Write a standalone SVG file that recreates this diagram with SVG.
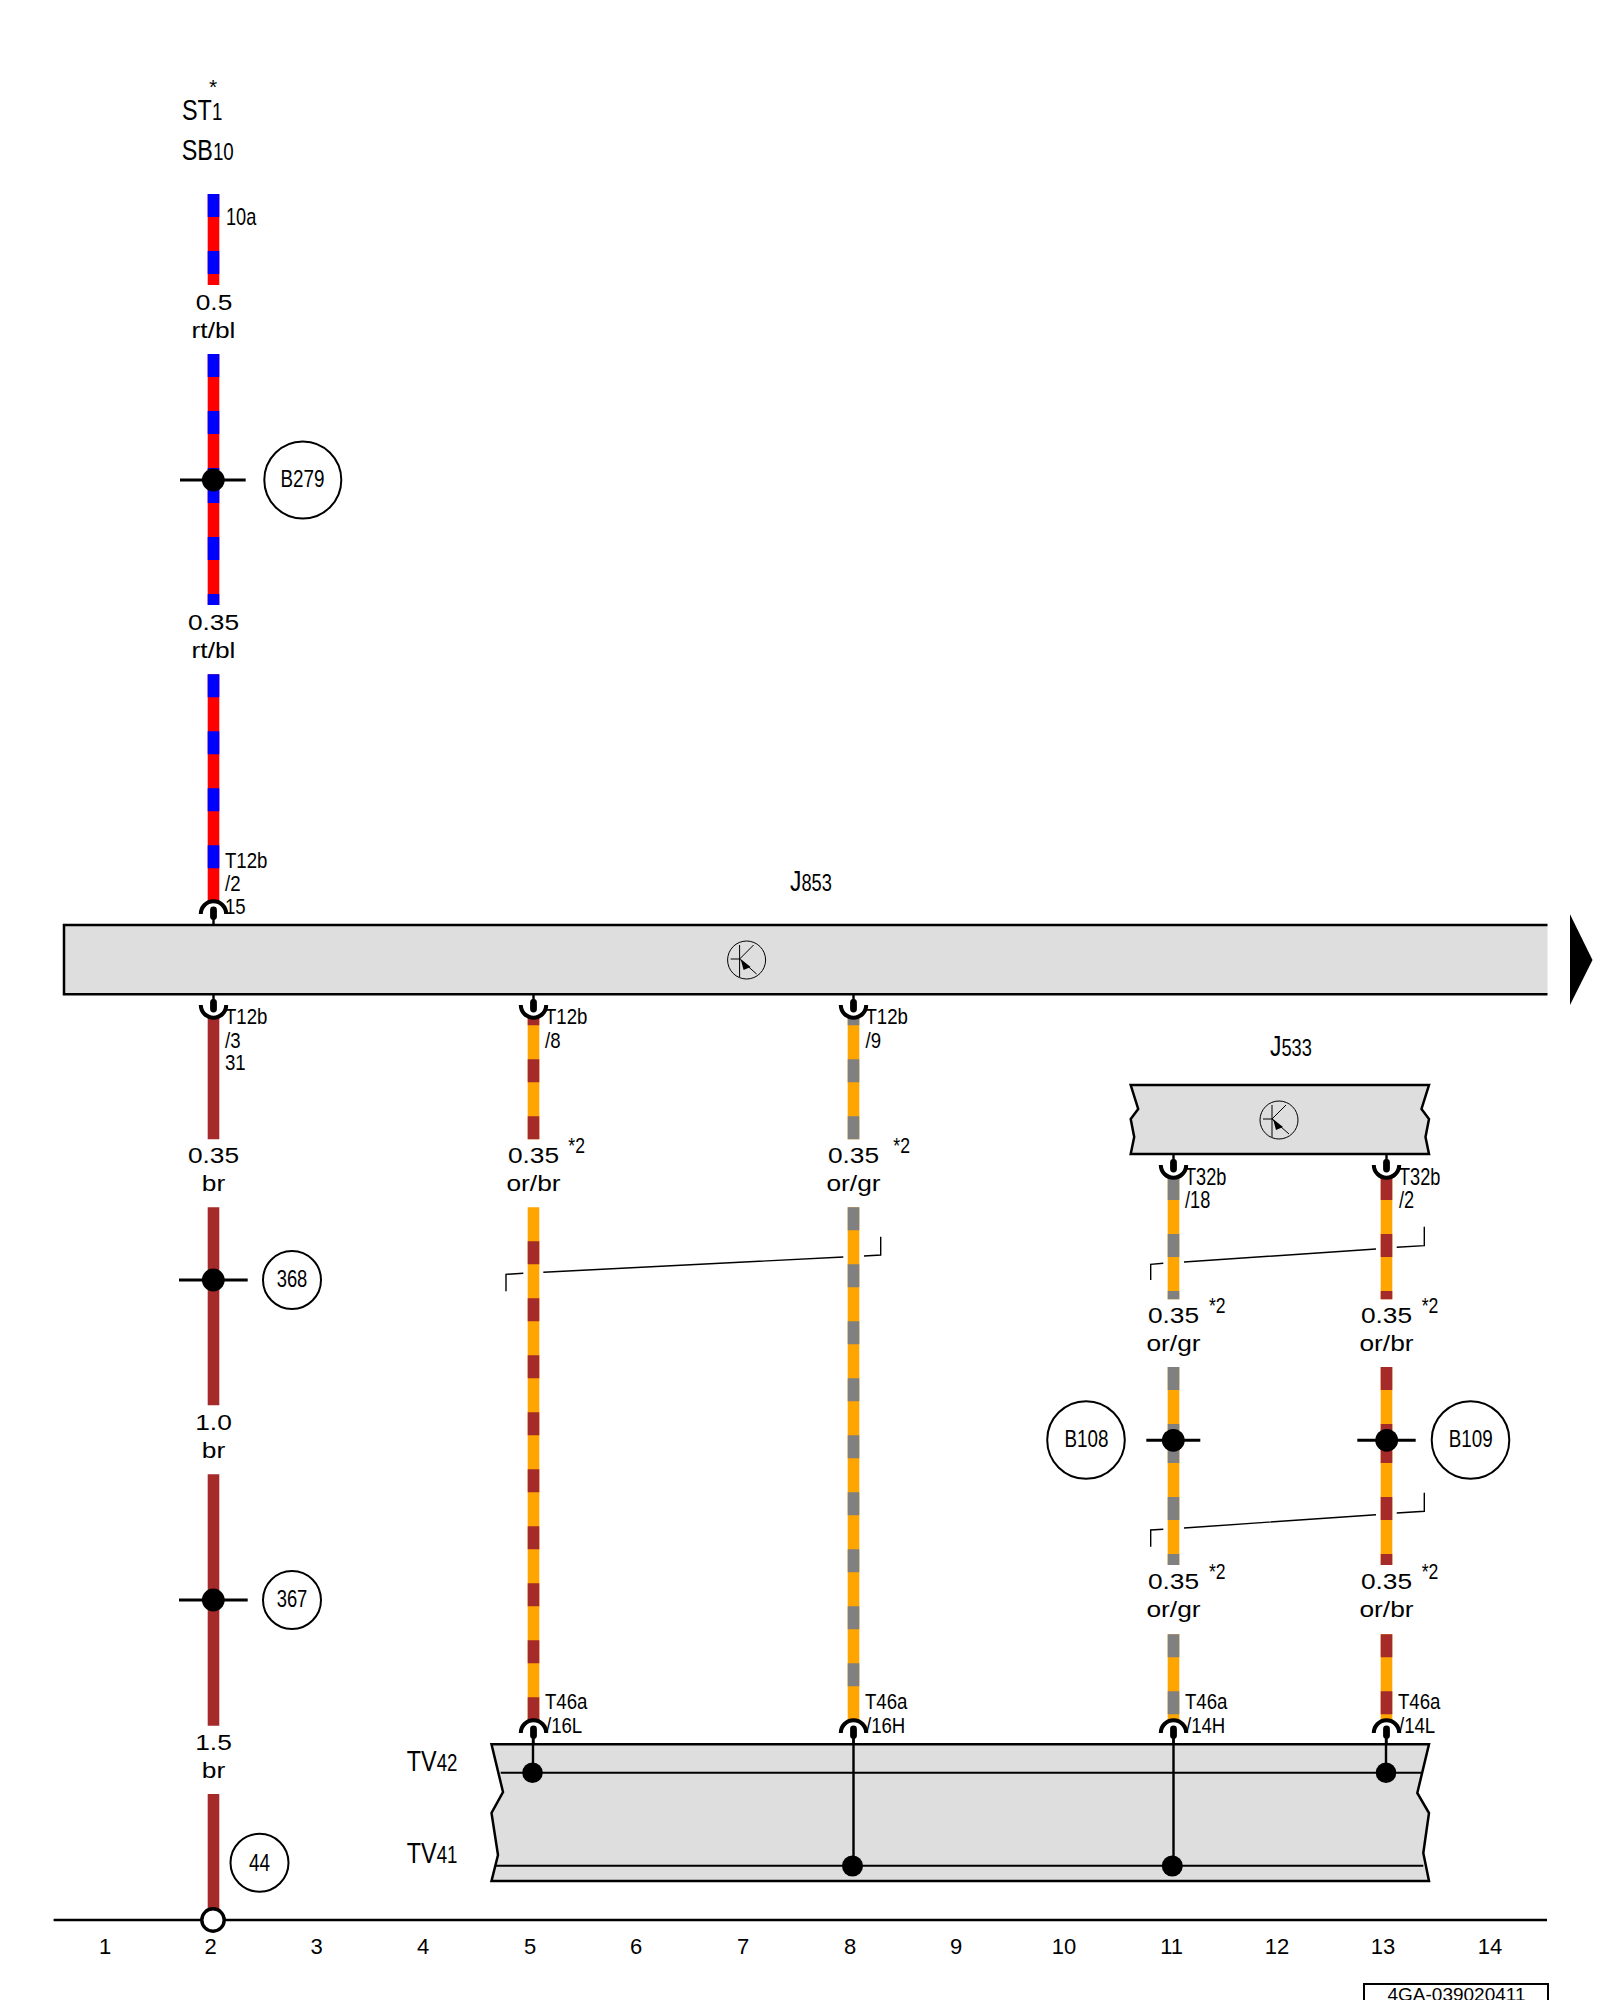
<svg xmlns="http://www.w3.org/2000/svg" xmlns:xlink="http://www.w3.org/1999/xlink" width="1600" height="2000" viewBox="0 0 1600 2000">
<style>
text{font-family:"Liberation Sans",Arial,sans-serif;fill:#000}
.big{font-size:30px}.sub{font-size:24px}
.lab{font-size:23px}
.wl{font-size:22.5px;text-anchor:middle}
.ax{font-size:22px;text-anchor:middle}
.nl{font-size:23px;text-anchor:middle}
.st{font-size:22px}
.box{fill:#dedede;stroke:#000;stroke-width:2.5;stroke-linejoin:miter}
.w{fill:none;stroke-width:11.6}
.rt{stroke:#f00}.bl{stroke:#00f}.br{stroke:#a52a2a}.or{stroke:#ffa500}.gr{stroke:#808080}
.d{stroke-dasharray:23 34}
.ring{fill:#fff;stroke:#000;stroke-width:2}
.cross{stroke:#000;stroke-width:3;fill:none}
.inner{stroke:#000;stroke-width:2;fill:none}
.thin{stroke:#000;stroke-width:2.4;fill:none}
.sc{stroke:#000;stroke-width:1.4;fill:none}
.sym{stroke:#000;stroke-width:1;fill:none}
</style>
<defs>
<g id="cU"><path d="M-12.7 0A12.7 12.7 0 0 0 12.7 0" fill="none" stroke="#000" stroke-width="4"/><path d="M0 -11V-5" stroke="#000" stroke-width="2.4"/><rect x="-3.4" y="-6" width="6.8" height="13.5" rx="3.4" fill="#000"/></g>
<g id="cA"><path d="M-12.7 0A12.7 12.7 0 0 1 12.7 0" fill="none" stroke="#000" stroke-width="4"/><path d="M0 11V5" stroke="#000" stroke-width="2.4"/><rect x="-3.4" y="-7.5" width="6.8" height="13.5" rx="3.4" fill="#000"/></g>
<g id="tr"><circle r="19" fill="none" stroke="#000" stroke-width="1"/><path class="sym" d="M-16 -1H-7M-7 -15V17M-7 -1L7 -15M-7 -1L10 14"/><path d="M-6 -1L4 7L-3 10Z" fill="#000"/></g>
<g id="sp"><circle r="11.4" fill="#000"/></g>
</defs>

<g id="connectors">
<g id="wire-2">
<path class="w rt" d="M213.5 194V285"/><path class="w bl d" d="M213.5 194V285"/>
<path class="w rt" d="M213.5 354V470"/><path class="w bl d" d="M213.5 354V470"/>
<path class="w rt" d="M213.5 480V605"/><path class="w bl d" d="M213.5 480V605"/>
<path class="w rt" d="M213.5 674.3V902"/><path class="w bl d" d="M213.5 674.3V902"/>
<path class="w br" d="M213.5 1017V1139.3M213.5 1207.3V1405.3M213.5 1474.3V1725.7M213.5 1794V1910"/>
</g>
<g id="wire-5">
<path class="w or" d="M533.5 1017V1139.3"/><path class="w br d" stroke-dashoffset="14.7" d="M533.5 1017V1139.3"/>
<path class="w or" d="M533.5 1207.3V1721"/><path class="w br d" stroke-dashoffset="23" d="M533.5 1207.3V1721"/>
</g>
<g id="wire-8">
<path class="w or" d="M853.5 1017V1139.3"/><path class="w gr d" stroke-dashoffset="14.7" d="M853.5 1017V1139.3"/>
<path class="w or" d="M853.5 1207.3V1721"/><path class="w gr d" d="M853.5 1207.3V1721"/>
</g>
<g id="wire-11">
<path class="w or" d="M1173.5 1177V1299.3"/><path class="w gr d" d="M1173.5 1177V1299.3"/>
<path class="w or" d="M1173.5 1367V1440"/><path class="w gr d" d="M1173.5 1367V1440"/>
<path class="w or" d="M1173.5 1440V1565"/><path class="w gr d" d="M1173.5 1440V1565"/>
<path class="w or" d="M1173.5 1634.3V1721"/><path class="w gr d" d="M1173.5 1634.3V1721"/>
</g>
<g id="wire-13">
<path class="w or" d="M1386.5 1177V1299.3"/><path class="w br d" d="M1386.5 1177V1299.3"/>
<path class="w or" d="M1386.5 1367V1440"/><path class="w br d" d="M1386.5 1367V1440"/>
<path class="w or" d="M1386.5 1440V1565"/><path class="w br d" d="M1386.5 1440V1565"/>
<path class="w or" d="M1386.5 1634.3V1721"/><path class="w br d" d="M1386.5 1634.3V1721"/>
</g>
<g id="screens">
<path class="sc" d="M506 1291.3V1274.3L523.3 1273.3M543.3 1272.3L843.3 1257M864 1256L880.7 1255V1236.7"/>
<path class="sc" d="M1150.7 1280V1264.3L1163.3 1263.3M1184 1262L1376 1249M1396.7 1247.3L1424.3 1245.7V1226.7"/>
<path class="sc" d="M1150.7 1546.7V1530L1163.3 1529.3M1184 1528L1376 1514.7M1396.7 1513L1424.3 1511.3V1492.7"/>
</g>
</g>

<g id="fuse-labels">
<text text-anchor="middle" x="213" y="94" style="font-size:21px">*</text>
<text transform="matrix(.78 0 0 1 182 120)"><tspan class="big">ST</tspan><tspan class="sub">1</tspan></text>
<text transform="matrix(.78 0 0 1 181.7 160)"><tspan class="big">SB</tspan><tspan class="sub">10</tspan></text>
<text class="lab" transform="matrix(.79 0 0 1 226 225)">10a</text>
</g>

<g id="wire-labels">
<text class="wl" transform="matrix(1.17 0 0 1 214 310)">0.5</text>
<text class="wl" transform="matrix(1.17 0 0 1 213.5 337.7)">rt/bl</text>
<text class="wl" transform="matrix(1.17 0 0 1 213.5 630)">0.35</text>
<text class="wl" transform="matrix(1.17 0 0 1 213.5 657.7)">rt/bl</text>
<text class="wl" transform="matrix(1.17 0 0 1 213.5 1162.7)">0.35</text>
<text class="wl" transform="matrix(1.17 0 0 1 213.5 1190.7)">br</text>
<text class="wl" transform="matrix(1.17 0 0 1 213.5 1430)">1.0</text>
<text class="wl" transform="matrix(1.17 0 0 1 213.5 1457.7)">br</text>
<text class="wl" transform="matrix(1.17 0 0 1 213.5 1750)">1.5</text>
<text class="wl" transform="matrix(1.17 0 0 1 213.5 1777.7)">br</text>
<text class="wl" transform="matrix(1.17 0 0 1 533.5 1162.7)">0.35</text>
<text class="wl" transform="matrix(1.17 0 0 1 533.5 1190.7)">or/br</text>
<text class="st" transform="matrix(.8 0 0 1 568.3 1152.7)">*2</text>
<text class="wl" transform="matrix(1.17 0 0 1 853.5 1162.7)">0.35</text>
<text class="wl" transform="matrix(1.17 0 0 1 853.5 1190.7)">or/gr</text>
<text class="st" transform="matrix(.8 0 0 1 893.3 1152.7)">*2</text>
<text class="wl" transform="matrix(1.17 0 0 1 1173.5 1322.7)">0.35</text>
<text class="wl" transform="matrix(1.17 0 0 1 1173.5 1350.7)">or/gr</text>
<text class="st" transform="matrix(.8 0 0 1 1209 1312.7)">*2</text>
<text class="wl" transform="matrix(1.17 0 0 1 1386.5 1322.7)">0.35</text>
<text class="wl" transform="matrix(1.17 0 0 1 1386.5 1350.7)">or/br</text>
<text class="st" transform="matrix(.8 0 0 1 1421.7 1312.7)">*2</text>
<text class="wl" transform="matrix(1.17 0 0 1 1173.5 1589.3)">0.35</text>
<text class="wl" transform="matrix(1.17 0 0 1 1173.5 1617.3)">or/gr</text>
<text class="st" transform="matrix(.8 0 0 1 1209 1579.3)">*2</text>
<text class="wl" transform="matrix(1.17 0 0 1 1386.5 1589.3)">0.35</text>
<text class="wl" transform="matrix(1.17 0 0 1 1386.5 1617.3)">or/br</text>
<text class="st" transform="matrix(.8 0 0 1 1421.7 1579.3)">*2</text>
</g>

<g id="J853">
<rect x="64" y="925" width="1483.5" height="69.3" fill="#dedede"/>
<path class="box" style="fill:none" d="M1547.5 925H64V994.3H1547.5"/>
<use xlink:href="#tr" href="#tr" x="746.6" y="960"/>
<text transform="matrix(.76 0 0 1 790 890.7)"><tspan class="big">J</tspan><tspan class="sub">853</tspan></text>
<path d="M1570 914.3L1592.5 960L1570 1005Z" fill="#000"/>
</g>

<g id="J533">
<path class="box" d="M1130.7 1085H1429L1421.5 1109L1429 1119L1425.5 1137L1429 1154H1130.7L1134.2 1137L1130.7 1119L1138.2 1109Z"/>
<use href="#tr" x="1279" y="1120"/>
<text transform="matrix(.76 0 0 1 1270 1055.7)"><tspan class="big">J</tspan><tspan class="sub">533</tspan></text>
</g>

<g id="TV">
<path class="box" d="M491.5 1744.3H1429L1417.3 1793L1429 1813L1423.3 1853L1429 1881H491.5L498 1855L491.5 1813L503 1792Z"/>
<path class="inner" d="M500.7 1772.7H1421.7M496 1865.7H1423.3"/>
<path class="thin" d="M533 1739V1772M853.5 1739V1866M1173.5 1739V1866M1386 1739V1772"/>
<circle cx="532.5" cy="1772.7" r="10.3"/>
<circle cx="852.5" cy="1866" r="10.5"/>
<circle cx="1172.3" cy="1866" r="10.5"/>
<circle cx="1386" cy="1772.7" r="10.3"/>
<text transform="matrix(.78 0 0 1 406.8 1770.7)"><tspan class="big">TV</tspan><tspan class="sub">42</tspan></text>
<text transform="matrix(.78 0 0 1 406.8 1863.3)"><tspan class="big">TV</tspan><tspan class="sub">41</tspan></text>
</g>

<g id="terminals">
<use href="#cA" x="213.5" y="914"/>
<text class="lab" transform="matrix(.81 0 0 1 225 868.3)">T12b</text>
<text class="lab" transform="matrix(.81 0 0 1 225 890.7)">/2</text>
<text class="lab" transform="matrix(.81 0 0 1 225 914)">15</text>
<use href="#cU" x="213.5" y="1005"/>
<text class="lab" transform="matrix(.81 0 0 1 225 1024)">T12b</text>
<text class="lab" transform="matrix(.81 0 0 1 225 1047.7)">/3</text>
<text class="lab" transform="matrix(.81 0 0 1 225 1070)">31</text>
<use href="#cU" x="533.5" y="1005"/>
<text class="lab" transform="matrix(.81 0 0 1 545 1024)">T12b</text>
<text class="lab" transform="matrix(.81 0 0 1 545 1047.7)">/8</text>
<use href="#cU" x="853.5" y="1005"/>
<text class="lab" transform="matrix(.81 0 0 1 865.5 1024)">T12b</text>
<text class="lab" transform="matrix(.81 0 0 1 865.5 1047.7)">/9</text>
<use href="#cU" x="1173.5" y="1165"/>
<text class="lab" transform="matrix(.79 0 0 1 1185 1185)">T32b</text>
<text class="lab" transform="matrix(.79 0 0 1 1185 1208.3)">/18</text>
<use href="#cU" x="1386.5" y="1165"/>
<text class="lab" transform="matrix(.79 0 0 1 1399 1185)">T32b</text>
<text class="lab" transform="matrix(.79 0 0 1 1399 1208.3)">/2</text>
<use href="#cA" x="533.5" y="1733"/>
<text class="lab" transform="matrix(.81 0 0 1 545 1709.3)">T46a</text>
<text class="lab" transform="matrix(.81 0 0 1 546 1732.7)">/16L</text>
<use href="#cA" x="853.5" y="1733"/>
<text class="lab" transform="matrix(.81 0 0 1 865 1709.3)">T46a</text>
<text class="lab" transform="matrix(.81 0 0 1 866 1732.7)">/16H</text>
<use href="#cA" x="1173.5" y="1733"/>
<text class="lab" transform="matrix(.81 0 0 1 1185 1709.3)">T46a</text>
<text class="lab" transform="matrix(.81 0 0 1 1186 1732.7)">/14H</text>
<use href="#cA" x="1386.5" y="1733"/>
<text class="lab" transform="matrix(.81 0 0 1 1398 1709.3)">T46a</text>
<text class="lab" transform="matrix(.81 0 0 1 1399 1732.7)">/14L</text>
</g>

<g id="node-B279">
<path class="cross" d="M180 480H245.7"/><use href="#sp" x="213.3" y="480"/>
<circle class="ring" cx="302.8" cy="480" r="38.5"/>
<text class="nl" transform="matrix(.82 0 0 1 302.5 487)">B279</text>
</g>
<g id="node-368">
<path class="cross" d="M179 1280H247.7"/><use href="#sp" x="213.3" y="1280"/>
<circle class="ring" cx="292" cy="1280" r="29"/>
<text class="nl" transform="matrix(.8 0 0 1 292 1287)">368</text>
</g>
<g id="node-367">
<path class="cross" d="M179 1600H247.7"/><use href="#sp" x="213.3" y="1600"/>
<circle class="ring" cx="292" cy="1600" r="29"/>
<text class="nl" transform="matrix(.8 0 0 1 292 1607)">367</text>
</g>
<g id="node-44">
<circle class="ring" cx="259.5" cy="1862.7" r="29"/>
<text class="nl" transform="matrix(.82 0 0 1 259.5 1870.5)">44</text>
</g>
<g id="node-B108">
<path class="cross" d="M1146.3 1440.3H1200.3"/><use href="#sp" x="1173.3" y="1440.3"/>
<circle class="ring" cx="1086" cy="1440" r="38.8"/>
<text class="nl" transform="matrix(.82 0 0 1 1086.5 1447)">B108</text>
</g>
<g id="node-B109">
<path class="cross" d="M1357.3 1440.3H1415.7"/><use href="#sp" x="1386.7" y="1440.3"/>
<circle class="ring" cx="1470.5" cy="1440" r="38.8"/>
<text class="nl" transform="matrix(.82 0 0 1 1470.7 1447)">B109</text>
</g>

<g id="axis">
<path d="M53.6 1920H1547" stroke="#000" stroke-width="2.5" fill="none"/>
<circle cx="213" cy="1920" r="11.2" fill="#fff" stroke="#000" stroke-width="3.4"/>
<text class="ax" x="105" y="1953.5">1</text>
<text class="ax" x="210.5" y="1953.5">2</text>
<text class="ax" x="316.5" y="1953.5">3</text>
<text class="ax" x="423" y="1953.5">4</text>
<text class="ax" x="530" y="1953.5">5</text>
<text class="ax" x="636" y="1953.5">6</text>
<text class="ax" x="743" y="1953.5">7</text>
<text class="ax" x="850" y="1953.5">8</text>
<text class="ax" x="956" y="1953.5">9</text>
<text class="ax" x="1064" y="1953.5">10</text>
<text class="ax" x="1171.7" y="1953.5">11</text>
<text class="ax" x="1277" y="1953.5">12</text>
<text class="ax" x="1383" y="1953.5">13</text>
<text class="ax" x="1490" y="1953.5">14</text>
</g>

<g id="doc-ref">
<rect x="1364" y="1984" width="184" height="30" fill="#fff" stroke="#000" stroke-width="2"/>
<text x="1456.5" y="2001.4" text-anchor="middle" style="font-size:19px">4GA-039020411</text>
</g>
</svg>
